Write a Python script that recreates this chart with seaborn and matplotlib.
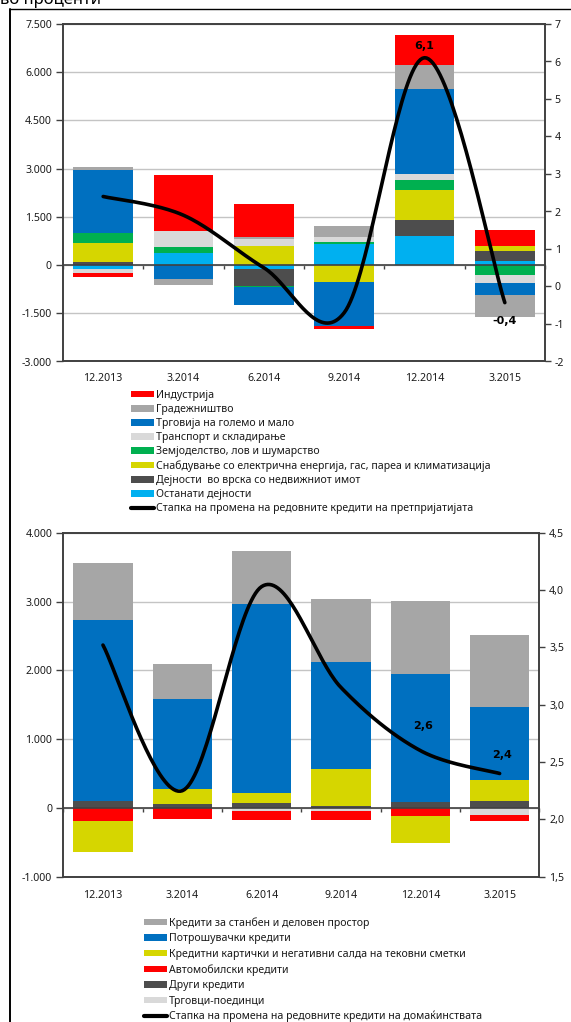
import numpy as np
import matplotlib
matplotlib.use("Agg")
import matplotlib.pyplot as plt
import seaborn as sns
from matplotlib.patches import Patch
from matplotlib.lines import Line2D
from matplotlib.ticker import FuncFormatter

# ---------------- data ----------------
categories = ["12.2013", "3.2014", "6.2014", "9.2014", "12.2014", "3.2015"]

# top chart: enterprises (legend order)
ent_labels = [
    "Индустрија",
    "Градежништво",
    "Трговија на големо и мало",
    "Транспорт и складирање",
    "Земјоделство, лов и шумарство",
    "Снабдување со електрична енергија, гас, пареа и климатизација",
    "Дејности  во врска со недвижниот имот",
    "Останати дејности",
]
ent_line_label = "Стапка на промена на редовните кредити на претпријатијата"
industry     = [-125, 1745, 1028, -104, 945, 488]
construction = [93, -187, 62, 353, 737, -664]
trade        = [1972, -436, -571, -1360, 2637, -384]
transport    = [-125, 498, 218, 135, 187, -249]
agriculture  = [293, 197, -31, 73, 312, -312]
energy       = [610, 0, 592, -540, 935, 166]
real_estate  = [84, 0, -530, 0, 498, 312]
other_act    = [-115, 364, -114, 654, 903, 114]
ent_rate     = [2.4, 1.9, 0.5, -0.7, 6.1, -0.43]

# bottom chart: households (legend order)
hh_labels = [
    "Кредити за станбен и деловен простор",
    "Потрошувачки кредити",
    "Кредитни картички и негативни салда на тековни сметки",
    "Автомобилски кредити",
    "Други кредити",
    "Трговци-поединци",
]
hh_line_label = "Стапка на промена на редовните кредити на домаќинствата"
housing      = [828, 509, 775, 906, 1056, 1051]
consumer     = [2635, 1308, 2737, 1565, 1870, 1051]
cards        = [-445, 218, 150, 528, -402, 305]
auto         = [-195, -155, -131, -121, -111, -97]
other_loans  = [100, 50, 70, 34, 82, 107]
sole_traders = [0, 0, -48, -48, 0, -97]
hh_rate      = [3.52, 2.25, 4.03, 3.15, 2.6, 2.4]

ent_series = [industry, construction, trade, transport, agriculture, energy, real_estate, other_act]
ent_colors = ["#FF0000", "#A6A6A6", "#0070C0", "#D9D9D9", "#00B050", "#D6D600", "#4D4D4D", "#00B0F0"]
hh_series = [housing, consumer, cards, auto, other_loans, sole_traders]
hh_colors = ["#A6A6A6", "#0070C0", "#D6D600", "#FF0000", "#4D4D4D", "#D9D9D9"]

# ---------------- style ----------------
sns.set_theme(style="white")
plt.rcParams["font.family"] = ["Noto Sans", "DejaVu Sans"]
plt.rcParams["axes.unicode_minus"] = False

W, H = 571, 1022
fig = plt.figure(figsize=(W / 100, H / 100), dpi=100)
DARK = "#404040"
TXT = "#1a1a1a"
FS = 7.6


def px_axes(l, t, r, b):
    return fig.add_axes([l / W, 1 - b / H, (r - l) / W, (b - t) / H])


def smooth_curve(y, n=40):
    y = np.asarray(y, float)
    x = np.arange(len(y), dtype=float)
    P = np.column_stack([x, y])
    Pp = np.vstack([P[0], P, P[-1]])
    t = np.linspace(0, 1, n)
    out = []
    for i in range(len(P) - 1):
        p0, p3 = Pp[i + 1], Pp[i + 2]
        c1 = p0 + (Pp[i + 2] - Pp[i]) / 6.0
        c2 = p3 - (Pp[i + 3] - Pp[i + 1]) / 6.0
        seg = (((1 - t) ** 3)[:, None] * p0 + (3 * (1 - t) ** 2 * t)[:, None] * c1
               + (3 * (1 - t) * t ** 2)[:, None] * c2 + (t ** 3)[:, None] * p3)
        out.append(seg if i == 0 else seg[1:])
    return np.vstack(out)


def stacked(ax, series, colors, width=0.745):
    x = np.arange(len(categories))
    pos = np.zeros(len(x))
    neg = np.zeros(len(x))
    # stacked from zero outward in reverse legend order
    for vals, col in zip(series[::-1], colors[::-1]):
        v = np.asarray(vals, float)
        bottom = np.where(v >= 0, pos, neg)
        ax.bar(x, v, width, bottom=bottom, color=col, linewidth=0, zorder=2)
        pos = pos + np.where(v >= 0, v, 0)
        neg = neg + np.where(v < 0, v, 0)


def style_axes(ax, ylim, yticks, yfmt, xpad):
    ax.set_xlim(-0.5, len(categories) - 0.5)
    ax.set_ylim(*ylim)
    ax.set_yticks(yticks)
    ax.yaxis.set_major_formatter(FuncFormatter(yfmt))
    ax.set_xticks(range(len(categories)))
    ax.set_xticklabels(categories)
    ax.tick_params(axis="x", length=0, pad=xpad, labelsize=FS, labelcolor=TXT)
    ax.tick_params(axis="y", left=True, length=5, width=1, color=DARK, direction="out",
                   labelsize=FS, labelcolor=TXT, pad=3)
    ax.yaxis.grid(True, color="#C4C4C4", linewidth=1.0, zorder=0)
    ax.set_axisbelow(True)
    for s in ax.spines.values():
        s.set_color(DARK)
        s.set_linewidth(1.2)
    ax.axhline(0, color=DARK, linewidth=1.2, zorder=3)
    frac = (0 - ylim[0]) / (ylim[1] - ylim[0])
    sec = ax.secondary_xaxis(frac)
    sec.set_xticks(np.arange(-0.5, len(categories), 1.0))
    sec.tick_params(axis="x", bottom=True, length=3, width=1, color=DARK, direction="out",
                    labelbottom=False, labeltop=False)
    for s in sec.spines.values():
        s.set_visible(False)
    ax.set_xlabel("")
    ax.set_ylabel("")


def style_twin(tx, ylim, yticks, yfmt):
    tx.set_ylim(*ylim)
    tx.set_yticks(yticks)
    tx.yaxis.set_major_formatter(FuncFormatter(yfmt))
    tx.tick_params(axis="y", right=True, length=4, width=1, color=DARK, direction="out",
                   labelsize=FS, labelcolor=TXT, pad=3)
    tx.grid(False)
    for s in tx.spines.values():
        s.set_color(DARK)
        s.set_linewidth(1.2)
    tx.set_ylabel("")


thousands = lambda v, p: f"{int(round(v)):,}".replace(",", ".")
BOLD = dict(fontsize=8, fontweight="bold", color="black", family=["DejaVu Sans"])

# ---------------- top chart ----------------
ax1 = px_axes(63, 24, 545, 361.5)
stacked(ax1, ent_series, ent_colors)
style_axes(ax1, (-3000, 7500), np.arange(-3000, 7501, 1500), thousands, 8.0)
tx1 = ax1.twinx()
cur = smooth_curve(ent_rate)
sns.lineplot(x=cur[:, 0], y=cur[:, 1], ax=tx1, color="black", linewidth=2.6,
             sort=False, estimator=None, legend=False)
style_twin(tx1, (-2, 7), np.arange(-2, 8, 1), lambda v, p: f"{int(round(v))}")
for i, dy in [(4, 8.5), (5, -13)]:
    tx1.annotate(f"{ent_rate[i]:.1f}".replace(".", ","), (i, ent_rate[i]),
                 xytext=(0, dy), textcoords="offset points", ha="center", va="center", **BOLD)

# ---------------- bottom chart ----------------
ax2 = px_axes(63.3, 532.7, 539.3, 876.7)
stacked(ax2, hh_series, hh_colors)
style_axes(ax2, (-1000, 4000), np.arange(-1000, 4001, 1000), thousands, 9.5)
tx2 = ax2.twinx()
cur2 = smooth_curve(hh_rate)
sns.lineplot(x=cur2[:, 0], y=cur2[:, 1], ax=tx2, color="black", linewidth=2.6,
             sort=False, estimator=None, legend=False)
style_twin(tx2, (1.5, 4.5), np.arange(1.5, 4.51, 0.5), lambda v, p: f"{v:.1f}".replace(".", ","))
for i, dx, dy in [(4, 2, 18), (5, 2, 13)]:
    tx2.annotate(f"{hh_rate[i]:.1f}".replace(".", ","), (i, hh_rate[i]),
                 xytext=(dx, dy), textcoords="offset points", ha="center", va="center", **BOLD)

# ---------------- legends ----------------
h1 = [Patch(facecolor=c, edgecolor="none") for c in ent_colors] + \
     [Line2D([], [], color="black", linewidth=3)]
fig.legend(h1, ent_labels + [ent_line_label], loc="upper left",
           bbox_to_anchor=(131 / W, 1 - 390 / H), frameon=False, borderpad=0,
           borderaxespad=0, handlelength=2.2, handleheight=0.55, handletextpad=0.2,
           labelspacing=0.29, fontsize=FS, labelcolor=TXT)

h2 = [Patch(facecolor=c, edgecolor="none") for c in hh_colors] + \
     [Line2D([], [], color="black", linewidth=3)]
fig.legend(h2, hh_labels + [hh_line_label], loc="upper left",
           bbox_to_anchor=(144 / W, 1 - 917 / H), frameon=False, borderpad=0,
           borderaxespad=0, handlelength=2.2, handleheight=0.55, handletextpad=0.2,
           labelspacing=0.42, fontsize=FS, labelcolor=TXT)

# ---------------- frame and title ----------------
fig.add_artist(Line2D([10 / W, 10 / W], [0, 1 - 9 / H], transform=fig.transFigure,
                      color="black", linewidth=1.4))
fig.add_artist(Line2D([10 / W, 1], [1 - 9 / H, 1 - 9 / H], transform=fig.transFigure,
                      color="black", linewidth=1.0))
fig.text(0.0, 1 - 4 / H, "во проценти", ha="left", va="baseline", fontsize=12, color="black")

fig.savefig("out.png", dpi=100)
